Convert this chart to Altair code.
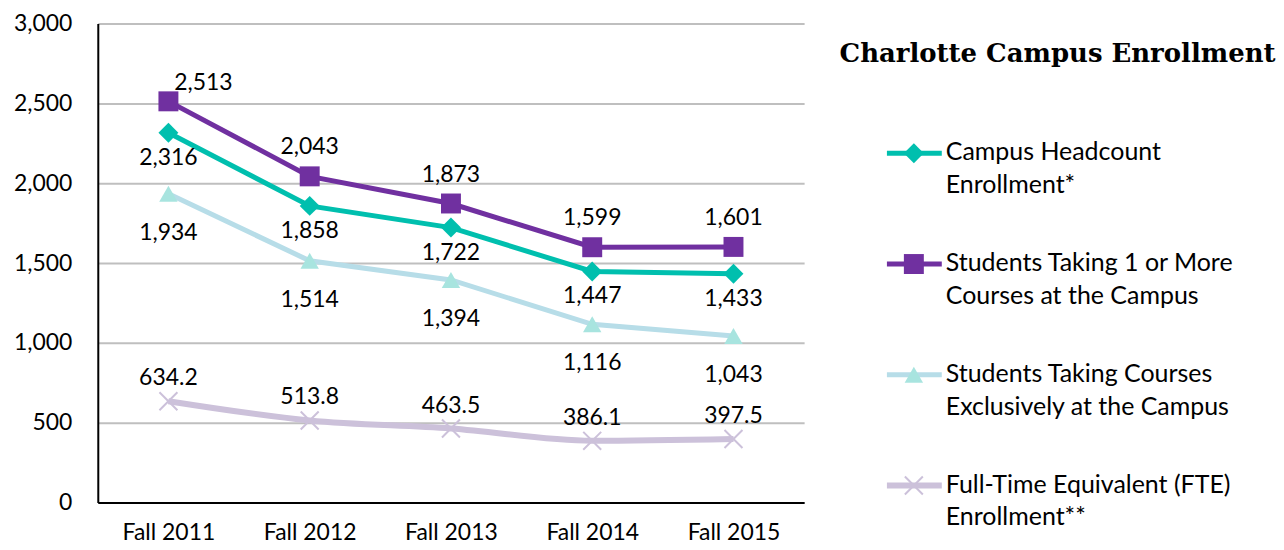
import altair as alt
import pandas as pd

terms = ["Fall 2011", "Fall 2012", "Fall 2013", "Fall 2014", "Fall 2015"]
headcount = [2316, 1858, 1722, 1447, 1433]
one_or_more = [2513, 2043, 1873, 1599, 1601]
exclusive = [1934, 1514, 1394, 1116, 1043]
fte = [634.2, 513.8, 463.5, 386.1, 397.5]

series_names = [
    "Campus Headcount\nEnrollment*",
    "Students Taking 1 or More\nCourses at the Campus",
    "Students Taking Courses\nExclusively at the Campus",
    "Full-Time Equivalent (FTE)\nEnrollment**",
]
series_values = [headcount, one_or_more, exclusive, fte]
title_text = "Charlotte Campus Enrollment"

FONT = "Lato"
FS = 23
LFS = 25
XPATH = "M-1,-1L1,1M-1,1L1,-1"

styles = [
    dict(line="#00BFAE", mk="#00BFAE", shape="diamond", size=400, filled=True, dy=25, interp="linear", sw=5),
    dict(line="#7030A0", mk="#7030A0", shape="square", size=400, filled=True, dy=-29, interp="linear", sw=5),
    dict(line="#B7DDE8", mk="#A8E4DF", shape="triangle-up", size=340, filled=True, dy=39, interp="linear", sw=5),
    dict(line="#CCC1DA", mk="#CCC1DA", shape=XPATH, size=324, filled=False, dy=-23, interp="monotone", sw=6),
]

rows = []
for name, vals in zip(series_names, series_values):
    for t, v in zip(terms, vals):
        lab = f"{v:,.1f}" if isinstance(v, float) else f"{v:,}"
        rows.append({"series": name, "term": t, "value": v, "label": lab})
df = pd.DataFrame(rows)

xenc = alt.X("term:N", sort=terms, title=None,
             axis=alt.Axis(labelFont=FONT, labelFontSize=FS, labelColor="#000000", labelAngle=0,
                           labelPadding=19, ticks=False, tickSize=0, domainColor="#000000",
                           domainWidth=2, grid=False))
yenc = alt.Y("value:Q", title=None, scale=alt.Scale(domain=[0, 3000], nice=False),
             axis=alt.Axis(values=[0, 500, 1000, 1500, 2000, 2500, 3000], format=",.0f",
                           labelFont=FONT, labelFontSize=FS, labelColor="#000000",
                           labelPadding=26, ticks=False, tickSize=0, domainColor="#000000",
                           domainWidth=2, gridColor="#BFBFBF", gridWidth=2))

base = alt.Chart(df).encode(x=xenc, y=yenc)

layers = []
order = [3, 2, 0, 1]
for i in order:
    name = series_names[i]
    st = styles[i]
    flt = alt.datum.series == name
    line = base.transform_filter(flt).mark_line(
        color=st["line"], strokeWidth=st["sw"], interpolate=st["interp"])
    if st["filled"]:
        pts = base.transform_filter(flt).mark_point(
            shape=st["shape"], size=st["size"], filled=True, color=st["mk"], opacity=1)
    else:
        pts = base.transform_filter(flt).mark_point(
            shape=st["shape"], size=st["size"], filled=False, color=st["mk"],
            strokeWidth=2, opacity=1)
    layers += [line, pts]

for i in order:
    name = series_names[i]
    st = styles[i]
    flt = alt.datum.series == name
    if i == 1:
        t1 = base.transform_filter(flt & (alt.datum.term != "Fall 2011")).mark_text(
            font=FONT, fontSize=FS, color="#000000", dy=st["dy"]).encode(text="label:N")
        t2 = base.transform_filter(flt & (alt.datum.term == "Fall 2011")).mark_text(
            font=FONT, fontSize=FS, color="#000000", dy=-18, dx=35).encode(text="label:N")
        layers += [t1, t2]
    else:
        t = base.transform_filter(flt).mark_text(
            font=FONT, fontSize=FS, color="#000000", dy=st["dy"]).encode(text="label:N")
        layers.append(t)

main = alt.layer(*layers).properties(width=708, height=480, view=alt.ViewConfig(strokeWidth=0))

# legend panel
ldf = pd.DataFrame({"series": series_names, "idx": list(range(len(series_names)))})
ly = alt.Y("idx:Q", scale=alt.Scale(domain=[-1.171, 3.153], reverse=True, nice=False, zero=False), axis=None)
lbase = alt.Chart(ldf).encode(y=ly)
llayers = []
for i, name in enumerate(series_names):
    st = styles[i]
    flt = alt.datum.series == name
    llayers.append(lbase.transform_filter(flt).mark_rule(color=st["line"], strokeWidth=st["sw"]).encode(
        x=alt.value(46), x2=alt.value(101)))
    if st["filled"]:
        llayers.append(lbase.transform_filter(flt).mark_point(
            shape=st["shape"], size=st["size"], filled=True, color=st["mk"], opacity=1).encode(x=alt.value(73)))
    else:
        llayers.append(lbase.transform_filter(flt).mark_point(
            shape=st["shape"], size=st["size"], filled=False, color=st["mk"], strokeWidth=2,
            opacity=1).encode(x=alt.value(73)))
llayers.append(lbase.mark_text(font=FONT, fontSize=LFS, color="#000000", align="left",
                               baseline="top", dy=-13, lineBreak="\n", lineHeight=33).encode(
    x=alt.value(105), text="series:N"))
llayers.append(alt.Chart(pd.DataFrame({"t": [title_text]})).mark_text(
    font="DejaVu Serif", fontSize=26, fontWeight="bold", color="#000000", align="center",
    baseline="middle").encode(x=alt.value(217), y=alt.value(30), text="t:N"))

legend = alt.layer(*llayers).properties(width=430, height=480, view=alt.ViewConfig(strokeWidth=0))

chart = alt.hconcat(main, legend, spacing=35).properties(
    padding={"left": 5, "top": 4, "right": 0, "bottom": 0}
).configure_view(strokeWidth=0).configure(background="#FFFFFF")

chart.save("out.html", embed_options={"renderer": "svg", "actions": False})
